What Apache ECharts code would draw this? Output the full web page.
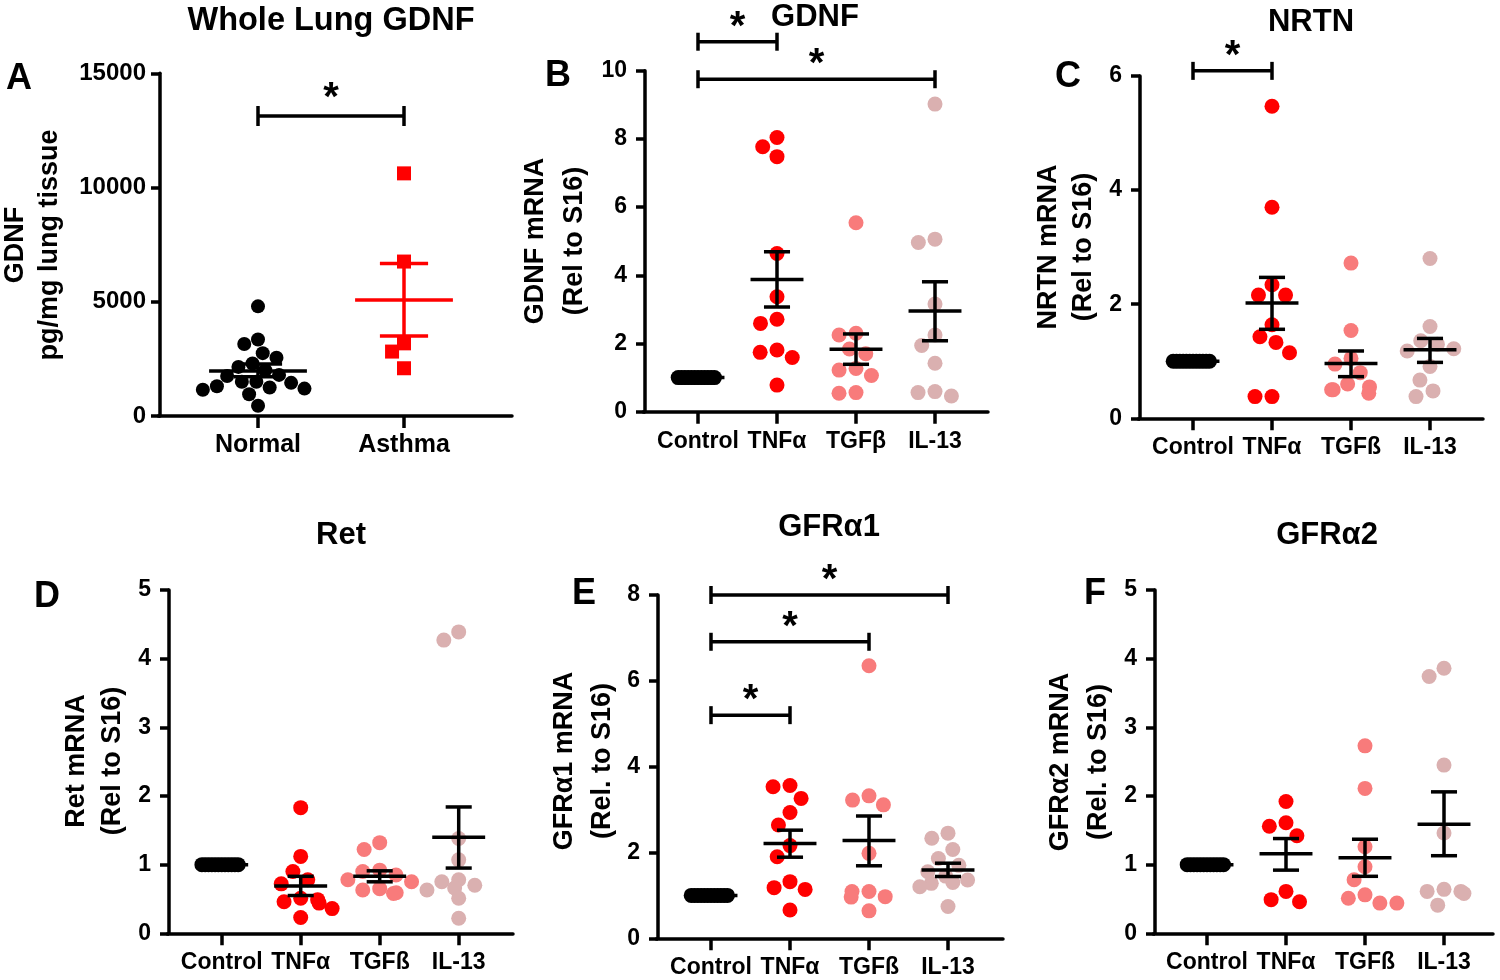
<!DOCTYPE html>
<html><head><meta charset="utf-8">
<script src="https://cdn.jsdelivr.net/npm/echarts@6/dist/echarts.min.js"></script>
<style>html,body{margin:0;padding:0;background:#fff}#c{width:1500px;height:980px}</style>
</head><body><div id="c"></div>
<script>
const FONT = '"Liberation Sans", Arial, Helvetica, sans-serif';

// ---------------- DATA ----------------
// Panel A: Whole Lung GDNF
const aCategories = ['Normal', 'Asthma'];
const aNormal = [4800, 3350, 3150, 2750, 2550, 2300, 2150, 2000, 1800, 1750, 1500, 1500, 1450, 1300, 1250, 1200, 1150, 950, 450];
const aAsthma = [10620, 6760, 3180, 2820, 2090];
const aStats = [[1970, 1720, 2280], [5080, 3500, 6680]]; // mean, lower SEM, upper SEM
const aYTicks = [0, 5000, 10000, 15000];
const aBrackets = [[0, 1, 13130]];

// Shared categories
const catsB = ['Control', 'TNFα', 'TGFβ', 'IL-13'];
const catsOther = ['Control', 'TNFα', 'TGFß', 'IL-13'];

// Panel B: GDNF
const bControl = [1, 1, 1, 1, 1, 1, 1, 1, 1, 1, 1, 1];
const bTNF = [8.04, 7.77, 7.48, 4.64, 3.37, 2.71, 2.59, 1.81, 1.74, 1.59, 0.78];
const bTGF = [5.54, 2.30, 2.25, 1.84, 1.70, 1.27, 1.22, 1.06, 0.56, 0.54];
const bIL13 = [9.02, 5.06, 4.96, 3.16, 2.25, 1.94, 1.42, 0.59, 0.56, 0.46];
const bStats = [[1, 1, 1], [3.88, 3.07, 4.69], [1.83, 1.39, 2.28], [2.95, 2.08, 3.81]];
const bYTicks = [0, 2, 4, 6, 8, 10];
const bBrackets = [[0, 1, 10.85], [0, 3, 9.75]];

// Panel C: NRTN
const cControl = [1, 1, 1, 1, 1, 1, 1, 1, 1, 1, 1, 1];
const cTNF = [5.47, 3.70, 2.34, 2.16, 2.16, 1.64, 1.43, 1.33, 1.15, 0.38, 0.38];
const cTGF = [2.72, 1.54, 1.05, 0.95, 0.80, 0.60, 0.55, 0.50, 0.50, 0.44];
const cIL13 = [2.80, 1.61, 1.36, 1.30, 1.22, 1.18, 0.91, 0.67, 0.48, 0.38];
const cStats = [[1, 1, 1], [2.02, 1.56, 2.47], [0.96, 0.73, 1.18], [1.20, 0.98, 1.40]];
const cYTicks = [0, 2, 4, 6];
const cBrackets = [[0, 1, 6.09]];

// Panel D: Ret
const dControl = [1, 1, 1, 1, 1, 1, 1, 1, 1, 1, 1, 1];
const dTNF = [1.83, 1.12, 0.90, 0.78, 0.72, 0.51, 0.49, 0.46, 0.44, 0.36, 0.23];
const dTGF = [1.32, 1.22, 0.92, 0.90, 0.85, 0.78, 0.75, 0.65, 0.63, 0.59, 0.58];
const dIL13 = [4.39, 4.27, 1.38, 1.07, 0.78, 0.75, 0.70, 0.66, 0.63, 0.51, 0.22];
const dStats = [[1, 1, 1], [0.69, 0.55, 0.83], [0.83, 0.75, 0.91], [1.40, 0.95, 1.84]];
const dYTicks = [0, 1, 2, 3, 4, 5];
const dBrackets = [];

// Panel E: GFRα1
const eControl = [1, 1, 1, 1, 1, 1, 1, 1, 1, 1, 1, 1];
const eTNF = [3.56, 3.53, 3.26, 2.93, 2.64, 2.16, 1.90, 1.32, 1.18, 1.14, 0.66];
const eTGF = [6.35, 3.32, 3.22, 3.11, 1.98, 1.09, 1.09, 0.97, 0.96, 0.64];
const eIL13 = [2.45, 2.33, 2.07, 1.86, 1.70, 1.55, 1.45, 1.36, 1.30, 1.28, 1.20, 0.74];
const eStats = [[1, 1, 1], [2.21, 1.89, 2.52], [2.28, 1.69, 2.85], [1.59, 1.44, 1.75]];
const eYTicks = [0, 2, 4, 6, 8];
const eBrackets = [[0, 3, 8.0], [0, 2, 6.91], [0, 1, 5.2]];

// Panel F: GFRα2
const fControl = [1, 1, 1, 1, 1, 1, 1, 1, 1, 1, 1, 1];
const fTNF = [1.92, 1.61, 1.56, 1.42, 0.61, 0.49, 0.46];
const fTGF = [2.73, 2.11, 1.26, 0.97, 0.78, 0.56, 0.51, 0.44, 0.44];
const fIL13 = [3.86, 3.74, 2.45, 1.46, 0.64, 0.61, 0.61, 0.58, 0.41];
const fStats = [[1, 1, 1], [1.16, 0.92, 1.38], [1.10, 0.83, 1.37], [1.59, 1.13, 2.06]];
const fYTicks = [0, 1, 2, 3, 4, 5];
const fBrackets = [];

// ---------------- STYLE ----------------
const BLACK = '#000000', RED = '#ff0000', SALMON = '#f87b7b', PINK = '#dab0b0';
const LW = 3.5;

// ---------------- BUILD ----------------
const option = {
  animation: false,
  backgroundColor: '#ffffff',
  textStyle: { fontFamily: FONT },
  grid: [], xAxis: [], yAxis: [], series: [], graphic: []
};

function meanRender(params, api) {
  const cat = api.value(0);
  const c = api.coord([cat, api.value(1)]);
  const lo = api.coord([cat, api.value(2)]);
  const hi = api.coord([cat, api.value(3)]);
  const bw = api.size([1, 0])[0];
  const mw = bw * 0.335, cw = bw * 0.165;
  const color = api.visual('color');
  const st = { stroke: color, lineWidth: LW, fill: null };
  return {
    type: 'group',
    children: [
      { type: 'line', shape: { x1: c[0] - mw, y1: c[1], x2: c[0] + mw, y2: c[1] }, style: st },
      { type: 'line', shape: { x1: c[0], y1: lo[1], x2: c[0], y2: hi[1] }, style: st },
      { type: 'line', shape: { x1: c[0] - cw, y1: lo[1], x2: c[0] + cw, y2: lo[1] }, style: st },
      { type: 'line', shape: { x1: c[0] - cw, y1: hi[1], x2: c[0] + cw, y2: hi[1] }, style: st }
    ]
  };
}

function makeBracketRender(capH, starGap, starSize) {
  return function (params, api) {
    const p1 = api.coord([api.value(0), api.value(2)]);
    const p2 = api.coord([api.value(1), api.value(2)]);
    const st = { stroke: BLACK, lineWidth: LW, fill: null };
    return {
      type: 'group',
      children: [
        { type: 'line', shape: { x1: p1[0], y1: p1[1], x2: p2[0], y2: p2[1] }, style: st },
        { type: 'line', shape: { x1: p1[0], y1: p1[1] - capH, x2: p1[0], y2: p1[1] + capH }, style: st },
        { type: 'line', shape: { x1: p2[0], y1: p2[1] - capH, x2: p2[0], y2: p2[1] + capH }, style: st },
        { type: 'text', style: { text: '*', x: (p1[0] + p2[0]) / 2, y: p1[1] - starGap + starSize * 0.23,
            fontSize: starSize, fontWeight: 'bold', fontFamily: FONT, fill: BLACK,
            align: 'center', verticalAlign: 'middle' } }
      ]
    };
  };
}

function addText(text, x, y, size, rot, lineHeight) {
  option.graphic.push({
    type: 'text', x: x, y: y, rotation: rot || 0, silent: true,
    style: { text: text, fontSize: size, fontWeight: 'bold', fontFamily: FONT, fill: BLACK,
      align: 'center', verticalAlign: 'middle', lineHeight: lineHeight || size * 1.2 }
  });
}

function addPanel(p) {
  const f = p.frame;
  const n = p.cats.length;
  const g = option.grid.length;
  const left = f.c0 - f.bw / 2;
  const pad = left - f.axisX;
  const h = f.yBot - f.yTop;
  option.grid.push({ left: left, top: f.yTop, width: n * f.bw, height: h });
  option.grid.push({ left: f.axisX - LW / 2, top: f.yTop, width: f.axisEnd - f.axisX + LW / 2, height: h });

  const xMain = option.xAxis.length;
  option.xAxis.push({
    gridIndex: g, type: 'category', data: p.cats, position: 'bottom',
    jitter: f.bw * 0.95, jitterOverlap: false, jitterMargin: p.margin,
    axisLine: { show: false },
    axisTick: { show: true, alignWithLabel: true, length: 12, lineStyle: { color: BLACK, width: LW } },
    axisLabel: { show: true, interval: 0, hideOverlap: false, color: BLACK, fontSize: p.xFont,
      fontWeight: 'bold', fontFamily: FONT, margin: p.xMargin },
    splitLine: { show: false }
  });
  option.xAxis.push({
    gridIndex: g, type: 'category', data: p.cats, position: 'top', show: false,
    jitter: f.bw * 0.95, jitterOverlap: false, jitterMargin: p.ctrlMargin
  });
  option.xAxis.push({
    gridIndex: g + 1, type: 'value', min: 0, max: 1, position: 'bottom',
    axisLine: { show: true, onZero: false, lineStyle: { color: BLACK, width: LW } },
    axisTick: { show: false }, axisLabel: { show: false }, splitLine: { show: false }
  });

  const yMain = option.yAxis.length;
  const ticks = p.yTicks;
  option.yAxis.push({
    gridIndex: g, type: 'value', min: ticks[0], max: ticks[ticks.length - 1],
    interval: ticks[1] - ticks[0], offset: pad,
    axisLine: { show: true, lineStyle: { color: BLACK, width: LW } },
    axisTick: { show: true, length: 9, lineStyle: { color: BLACK, width: LW } },
    axisLabel: { color: BLACK, fontSize: p.yFont, fontWeight: 'bold', fontFamily: FONT, margin: p.yMargin,
      formatter: function (v) { return String(v); } },
    splitLine: { show: false }
  });
  option.yAxis.push({ gridIndex: g + 1, type: 'value', min: 0, max: 1, show: false });

  p.groups.forEach(function (gr, i) {
    option.series.push({
      type: 'scatter', silent: true,
      xAxisIndex: gr.control ? xMain + 1 : xMain, yAxisIndex: yMain,
      symbol: gr.symbol || 'circle', symbolSize: p.symbolSize,
      itemStyle: { color: gr.color, opacity: 1 },
      data: gr.values.map(function (v) { return [i, v]; }),
      z: 2
    });
  });

  option.series.push({
    type: 'custom', silent: true, xAxisIndex: xMain, yAxisIndex: yMain,
    encode: { x: 0, y: [1, 2, 3] }, clip: false, z: 3,
    renderItem: meanRender,
    data: p.stats.map(function (s, i) {
      return { value: [i, s[0], s[1], s[2]], itemStyle: { color: p.meanColors[i] } };
    })
  });

  if (p.brackets.length) {
    option.series.push({
      type: 'custom', silent: true, xAxisIndex: xMain, yAxisIndex: yMain,
      encode: { x: [0, 1], y: 2 }, clip: false, z: 4,
      renderItem: makeBracketRender(p.capH, p.starGap, p.starSize),
      data: p.brackets
    });
  }

  addText(p.title, p.titlePos[0], p.titlePos[1], p.titleFont);
  addText(p.letter, p.letterPos[0], p.letterPos[1], 36);
  addText(p.yName, p.yNamePos[0], p.yNamePos[1], p.yNameFont, Math.PI / 2, p.yNameLH);
}

const common = { symbolSize: 15, margin: 2, ctrlMargin: -11.7, xFont: 23, xMargin: 18,
  yFont: 23, yMargin: 18, capH: 9, starGap: 23, starSize: 40, titleFont: 31, yNameFont: 27 };
const treatGroups = function (ctrl, tnf, tgf, il) {
  return [
    { values: ctrl, color: BLACK, control: true },
    { values: tnf, color: RED },
    { values: tgf, color: SALMON },
    { values: il, color: PINK }
  ];
};
const blackMeans = [BLACK, BLACK, BLACK, BLACK];

// Panel A
addPanel(Object.assign({}, common, {
  cats: aCategories, yTicks: aYTicks, stats: aStats, brackets: aBrackets,
  groups: [{ values: aNormal, color: BLACK }, { values: aAsthma, color: RED, symbol: 'rect' }],
  meanColors: [BLACK, RED], symbolSize: 14, margin: 0.5, xFont: 25, yFont: 24, yMargin: 14, xMargin: 17,
  capH: 10, starGap: 26,
  frame: { axisX: 160, axisEnd: 512, c0: 258, bw: 146, yTop: 73.3, yBot: 416 },
  title: 'Whole Lung GDNF', titlePos: [331, 21], titleFont: 32.5,
  letter: 'A', letterPos: [19, 79],
  yName: 'GDNF\npg/mg lung tissue', yNamePos: [33, 245], yNameLH: 34
}));

// Panel B
addPanel(Object.assign({}, common, {
  cats: catsB, yTicks: bYTicks, stats: bStats, brackets: bBrackets,
  groups: treatGroups(bControl, bTNF, bTGF, bIL13), meanColors: blackMeans,
  frame: { axisX: 645, axisEnd: 988, c0: 698, bw: 79, yTop: 70.7, yBot: 411.7 },
  title: 'GDNF', titlePos: [815, 17],
  letter: 'B', letterPos: [558, 76],
  yName: 'GDNF mRNA\n(Rel to S16)', yNamePos: [555, 241], yNameLH: 39
}));

// Panel C
addPanel(Object.assign({}, common, {
  cats: catsOther, yTicks: cYTicks, stats: cStats, brackets: cBrackets,
  groups: treatGroups(cControl, cTNF, cTGF, cIL13), meanColors: blackMeans,
  frame: { axisX: 1140, axisEnd: 1483, c0: 1193, bw: 79, yTop: 76, yBot: 418.3 },
  title: 'NRTN', titlePos: [1311, 22],
  letter: 'C', letterPos: [1068, 77],
  yName: 'NRTN mRNA\n(Rel to S16)', yNamePos: [1066, 247], yNameLH: 35
}));

// Panel D
addPanel(Object.assign({}, common, {
  cats: catsOther, yTicks: dYTicks, stats: dStats, brackets: dBrackets,
  groups: treatGroups(dControl, dTNF, dTGF, dIL13), meanColors: blackMeans,
  frame: { axisX: 169, axisEnd: 513, c0: 221.7, bw: 79, yTop: 590, yBot: 933.3 },
  title: 'Ret', titlePos: [341, 535],
  letter: 'D', letterPos: [47, 597],
  yName: 'Ret mRNA\n(Rel to S16)', yNamePos: [95, 761], yNameLH: 36
}));

// Panel E
addPanel(Object.assign({}, common, {
  cats: catsOther, yTicks: eYTicks, stats: eStats, brackets: eBrackets,
  groups: treatGroups(eControl, eTNF, eTGF, eIL13), meanColors: blackMeans,
  frame: { axisX: 658, axisEnd: 1003, c0: 711, bw: 79, yTop: 595, yBot: 938.3 },
  title: 'GFRα1', titlePos: [829, 527],
  letter: 'E', letterPos: [584, 594],
  yName: 'GFRα1 mRNA\n(Rel. to S16)', yNamePos: [584, 761], yNameLH: 38
}));

// Panel F
addPanel(Object.assign({}, common, {
  cats: catsOther, yTicks: fYTicks, stats: fStats, brackets: fBrackets,
  groups: treatGroups(fControl, fTNF, fTGF, fIL13), meanColors: blackMeans,
  frame: { axisX: 1155, axisEnd: 1493, c0: 1207, bw: 79, yTop: 590, yBot: 933.3 },
  title: 'GFRα2', titlePos: [1327, 535],
  letter: 'F', letterPos: [1095, 594],
  yName: 'GFRα2 mRNA\n(Rel. to S16)', yNamePos: [1080, 762], yNameLH: 38
}));

const chart = echarts.init(document.getElementById('c'), null, { renderer: 'canvas' });
chart.setOption(option);
</script>
</body></html>
